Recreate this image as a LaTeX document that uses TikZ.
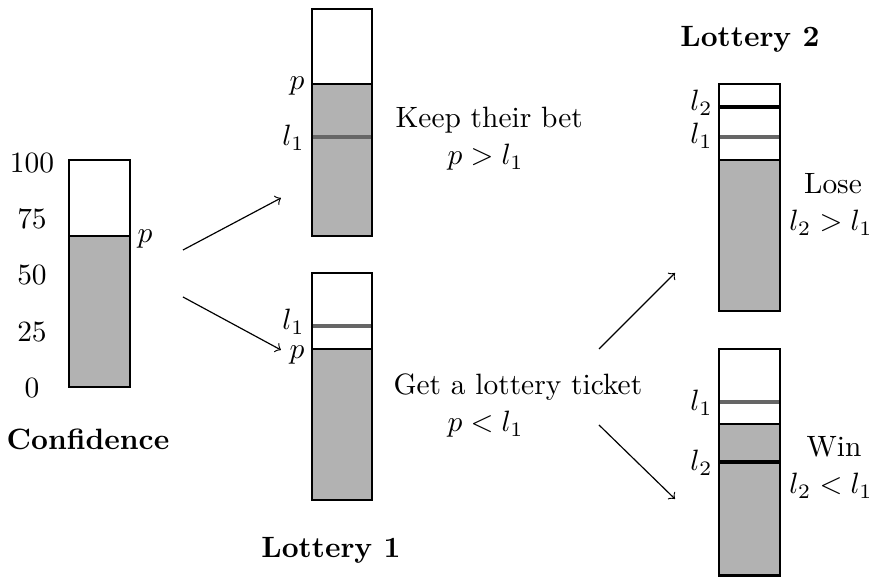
\documentclass[tikz,border=0pt]{standalone}
\usepackage{amsmath}
\usepackage{tikz}
\usetikzlibrary{positioning,calc}

\begin{document}
\begin{tikzpicture}[
  x=0.34pt, y=-0.34pt,
  >=to,
  bar/.style={draw=black, line width=0.9pt},
  below/.style={fill=black!30},
  lone/.style={draw=black!60, line width=1.6pt},
  ltwo/.style={draw=black, line width=1.6pt},
  title/.style={font=\bfseries},
  tag/.style={anchor=east, inner sep=1pt},
  move/.style={->, line width=0.4pt}
]
\useasboundingbox (0,0) rectangle (875,577);

% confidence
\fill[below] (69,236) rectangle (130,387);
\draw[bar] (69,160) rectangle (130,387);
\draw[bar] (69,236) -- (130,236);
\foreach \v [count=\i from 0] in {0,25,50,75,100}
  \node (tick\v) at (32,388-56.25*\i) {\v};
\node[anchor=west, inner sep=1pt] (pconf) at (134,239) {$p$};
\node[title, anchor=base] (conf) at (88,450) {Confidence};

% lottery 1, keep
\fill[below] (312,84) rectangle (372,236);
\draw[lone] (312,137) -- (372,137);
\draw[bar] (312,9) rectangle (372,236);
\draw[bar] (312,84) -- (372,84);
\node[tag] (pkeep) at (308,86) {$p$};
\node[tag] (lkeep) at (308,138) {$l_1$};
\node[anchor=base west, inner sep=0pt] (keep) at (395,128) {Keep their bet};
\node[anchor=base west, inner sep=0pt] (keepm) at (447,165) {$p > l_1$};

% lottery 1, ticket
\fill[below] (312,349) rectangle (372,500);
\draw[lone] (312,326) -- (372,326);
\draw[bar] (312,273) rectangle (372,500);
\draw[bar] (312,349) -- (372,349);
\node[tag] (lget) at (308,322) {$l_1$};
\node[tag] (pget) at (308,355) {$p$};
\node[anchor=base west, inner sep=0pt] (get) at (393,395) {Get a lottery ticket};
\node[anchor=base west, inner sep=0pt] (getm) at (447,432) {$p < l_1$};
\node[title, anchor=base] (lot1) at (331,558) {Lottery 1};

% lottery 2, lose
\fill[below] (719,160) rectangle (780,311);
\draw[ltwo] (719,107) -- (780,107);
\draw[lone] (719,137) -- (780,137);
\draw[bar] (719,84) rectangle (780,311);
\draw[bar] (719,160) -- (780,160);
\node[tag] (ltlose) at (716,103) {$l_2$};
\node[tag] (lolose) at (716,136) {$l_1$};
\node[anchor=base] (lose) at (833,194) {Lose};
\node[anchor=base] (losem) at (831,231) {$l_2 > l_1$};
\node[title, anchor=base] (lot2) at (750,47) {Lottery 2};

% lottery 2, win
\fill[below] (719,424) rectangle (780,575.5);
\draw[lone] (719,402) -- (780,402);
\draw[ltwo] (719,462) -- (780,462);
\draw[bar] (719,349) rectangle (780,575.5);
\draw[bar] (719,424) -- (780,424);
\node[tag] (lowin) at (716,403) {$l_1$};
\node[tag] (ltwin) at (716,463) {$l_2$};
\node[anchor=base] (win) at (834,457) {Win};
\node[anchor=base] (winm) at (831,494) {$l_2 < l_1$};

\coordinate (c1) at (183,250);
\coordinate (c1e) at (281,198);
\coordinate (c2) at (183,297);
\coordinate (c2e) at (281,350);
\coordinate (g1) at (599,349);
\coordinate (g1e) at (675,273);
\coordinate (g2) at (599,425);
\coordinate (g2e) at (675,499);
\draw[move] (c1) -- (c1e);
\draw[move] (c2) -- (c2e);
\draw[move] (g1) -- (g1e);
\draw[move] (g2) -- (g2e);
\end{tikzpicture}
\end{document}
